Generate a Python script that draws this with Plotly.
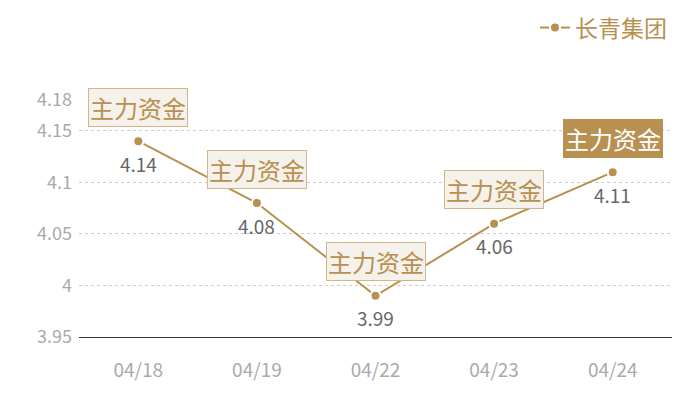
import plotly.graph_objects as go

# chart data
dates = ["04/18", "04/19", "04/22", "04/23", "04/24"]
prices = [4.14, 4.08, 3.99, 4.06, 4.11]
flag_text = "主力资金"
series_name = "长青集团"
y_ticks = [3.95, 4, 4.05, 4.1, 4.15, 4.18]

GOLD = "#b8904f"
FONT = "Noto Sans CJK SC"

fig = go.Figure()

fig.add_trace(go.Scatter(
    x=dates,
    y=prices,
    mode="lines+markers",
    name=series_name,
    line=dict(color=GOLD, width=2),
    marker=dict(size=10, color=GOLD, line=dict(color="white", width=2)),
    hoverinfo="x+y",
))

# value labels under the points and "主力资金" flags above them
for i, (d, p) in enumerate(zip(dates, prices)):
    fig.add_annotation(
        x=d, y=p, text=str(p), showarrow=False, yshift=-22,
        font=dict(family=FONT, size=19, color="#666666"),
    )
    last = i == len(dates) - 1
    fig.add_annotation(
        x=d, y=p, text=flag_text, showarrow=False, yshift=34,
        font=dict(family=FONT, size=24, color="white" if last else GOLD),
        bgcolor=GOLD if last else "#f5f1eb",
        bordercolor=GOLD if last else "#d2b588",
        borderwidth=1, borderpad=1,
    )

# the page body adds an 8px offset, so the figure is 8px smaller
fig.update_layout(
    width=692,
    height=392,
    margin=dict(l=71, r=28, t=92, b=63),
    plot_bgcolor="white",
    paper_bgcolor="white",
    font=dict(family=FONT),
    showlegend=True,
    legend=dict(
        orientation="h", x=1.0, xanchor="right",
        y=0.95, yref="container", yanchor="middle",
        font=dict(size=23, color=GOLD), itemwidth=30,
    ),
    xaxis=dict(
        type="category",
        range=[-0.5, 4.5],
        showgrid=False,
        showline=True,
        linecolor="#333333",
        linewidth=1,
        ticks="",
        ticklabelstandoff=16,
        tickfont=dict(size=19, color="#aaaaaa"),
    ),
    yaxis=dict(
        range=[3.95, 4.18],
        tickvals=y_ticks,
        ticktext=[str(t) for t in y_ticks],
        showgrid=True,
        gridcolor="#cccccc",
        griddash="dot",
        gridwidth=1,
        zeroline=False,
        showline=False,
        ticks="",
        ticklabelstandoff=6,
        tickfont=dict(size=18, color="#aaaaaa"),
    ),
)

fig.write_html("out.html")
